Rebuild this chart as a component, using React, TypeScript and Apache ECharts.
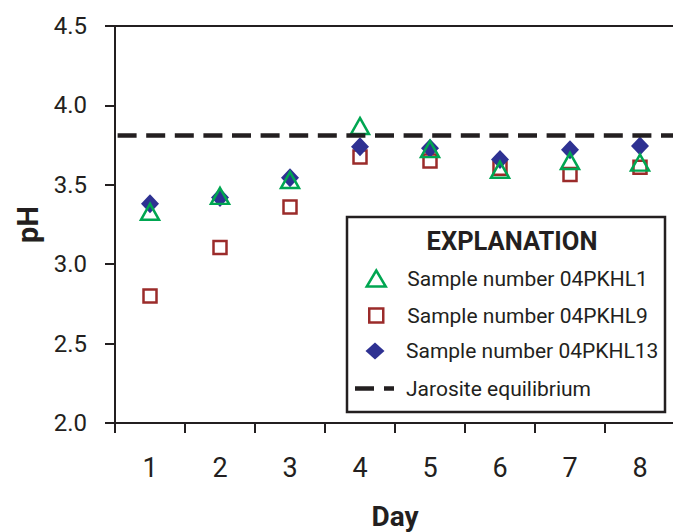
import React, { useEffect, useRef } from 'react';
import * as echarts from 'echarts';

// ---- data ----
const days = ['1', '2', '3', '4', '5', '6', '7', '8'];
const ph04PKHL1 = [3.33, 3.43, 3.53, 3.87, 3.725, 3.595, 3.65, 3.64];
const ph04PKHL9 = [2.8, 3.105, 3.36, 3.675, 3.65, 3.605, 3.565, 3.61];
const ph04PKHL13 = [3.38, 3.42, 3.545, 3.74, 3.73, 3.66, 3.72, 3.745];
const jarositeEquilibrium = 3.815;
const yMin = 2.0;
const yMax = 4.5;
const yStep = 0.5;

const names = [
  'Sample number 04PKHL1',
  'Sample number 04PKHL9',
  'Sample number 04PKHL13',
  'Jarosite equilibrium',
];

const FONT = "Roboto, 'Liberation Sans', sans-serif";
const INK = '#231f20';
const GREEN = '#00a651';
const RED = '#9b2b2a';
const NAVY = '#2e3192';

const PAD = 'M0,0M52,18';
const ICON_TRI = 'path://' + PAD + 'M26,1L35.5,17L16.5,17Z';
const ICON_SQ = 'path://' + PAD + 'M19,2L33,2L33,16L19,16Z';
const ICON_DIA = 'path://' + PAD + 'M26,0.5L35.5,9L26,17.5L16.5,9Z';
const ICON_DASH = 'path://' + PAD + 'M6,6.75h19v4.5h-19zM35,6.75h10v4.5h-10z';

const legendIcons = [ICON_TRI, ICON_SQ, ICON_DIA, ICON_DASH];
const legendBorder = [2.5, 2.5, 0, 0];
const legendRowCenters = [277, 314, 349.5, 387];

export default function App() {
  const ref = useRef<HTMLDivElement>(null);

  useEffect(() => {
    if (!ref.current) return;
    const chart = echarts.init(ref.current, undefined, { renderer: 'svg' });

    const legends = names.map((n, i) => ({
      orient: 'vertical',
      left: 349,
      top: legendRowCenters[i] - 9,
      padding: 0,
      itemWidth: 52,
      itemHeight: 18,
      z: 5,
      selectedMode: false,
      textStyle: { fontFamily: FONT, fontSize: 21, color: INK, lineHeight: 18 },
      data: [{ name: n, icon: legendIcons[i], itemStyle: { borderWidth: legendBorder[i], opacity: 1 } }],
    }));

    const option: any = {
      animation: false,
      backgroundColor: '#ffffff',
      grid: {
        left: 115,
        top: 26,
        width: 560,
        height: 397,
        containLabel: false,
        outerBoundsMode: 'none',
      },
      xAxis: [
        {
          type: 'category',
          data: days,
          boundaryGap: true,
          position: 'bottom',
          name: 'Day',
          nameLocation: 'middle',
          nameGap: 79,
          nameTextStyle: { fontFamily: FONT, fontSize: 28, fontWeight: 'bold', color: INK, lineHeight: 28 },
          axisLine: { show: true, lineStyle: { color: INK, width: 2 } },
          axisTick: { show: true, inside: false, length: 10, alignWithLabel: false, lineStyle: { color: INK, width: 2 } },
          axisLabel: { show: true, margin: 31, fontFamily: FONT, fontSize: 27, color: INK },
          splitLine: { show: false },
        },
        {
          type: 'category',
          data: days,
          position: 'top',
          axisLine: { show: true, lineStyle: { color: INK, width: 2 } },
          axisTick: { show: false },
          axisLabel: { show: false },
          splitLine: { show: false },
        },
      ],
      yAxis: {
        type: 'value',
        min: yMin,
        max: yMax,
        interval: yStep,
        name: 'pH',
        nameLocation: 'middle',
        nameGap: 73,
        nameRotate: 90,
        nameTextStyle: { fontFamily: FONT, fontSize: 29, fontWeight: 'bold', color: INK },
        axisLine: { show: true, lineStyle: { color: INK, width: 2 } },
        axisTick: { show: true, inside: false, length: 10, lineStyle: { color: INK, width: 2 } },
        axisLabel: {
          margin: 28,
          fontFamily: FONT,
          fontSize: 24,
          color: INK,
          formatter: (v: number) => v.toFixed(1),
        },
        splitLine: { show: false },
      },
      legend: legends,
      graphic: [
        {
          type: 'rect',
          z: 1,
          shape: { x: 347, y: 217, width: 318, height: 195 },
          style: { fill: '#ffffff', stroke: INK, lineWidth: 2.5 },
        },
        {
          type: 'text',
          z: 6,
          x: 512,
          y: 241,
          style: {
            text: 'EXPLANATION',
            fontFamily: FONT,
            fontSize: 25.5,
            fontWeight: 'bold',
            fill: INK,
            align: 'center',
            verticalAlign: 'middle',
          },
        },
      ],
      series: [
        {
          name: names[3],
          type: 'line',
          data: [],
          color: INK,
          itemStyle: { color: INK },
          lineStyle: { color: INK },
          markLine: {
            silent: true,
            symbol: ['none', 'none'],
            label: { show: false },
            lineStyle: { color: INK, width: 4.5, type: [19, 9.6], dashOffset: 25.6 },
            data: [{ yAxis: jarositeEquilibrium }],
          },
        },
        {
          name: names[1],
          type: 'scatter',
          data: ph04PKHL9,
          symbol: 'rect',
          symbolSize: 13,
          itemStyle: { color: 'rgba(0,0,0,0)', borderColor: RED, borderWidth: 2.5, opacity: 1 },
        },
        {
          name: names[2],
          type: 'scatter',
          data: ph04PKHL13,
          symbol: 'diamond',
          symbolSize: [18, 19],
          itemStyle: { color: NAVY, opacity: 1 },
        },
        {
          name: names[0],
          type: 'scatter',
          data: ph04PKHL1,
          symbol: 'triangle',
          symbolSize: [18, 16],
          itemStyle: { color: 'rgba(0,0,0,0)', borderColor: GREEN, borderWidth: 2.5, opacity: 1 },
        },
      ],
    };
    chart.setOption(option);
    return () => chart.dispose();
  }, []);

  return (
    <div
      ref={ref}
      style={{ position: 'fixed', left: 0, top: 0, width: 673, height: 532, background: '#fff' }}
    />
  );
}
